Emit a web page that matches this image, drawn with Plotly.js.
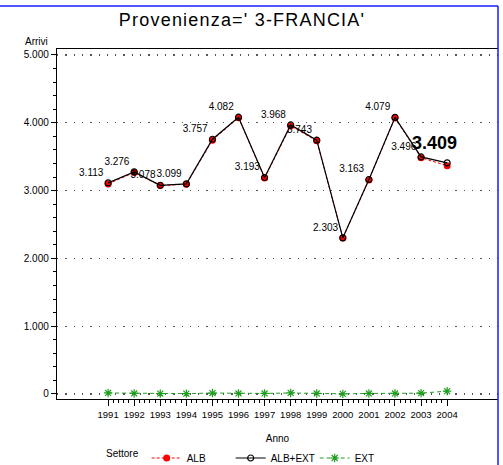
<!DOCTYPE html>
<html>
<head>
<meta charset="utf-8">
<script src="https://cdn.plot.ly/plotly-3.0.1.min.js"></script>
<style>
html,body{margin:0;padding:0;background:#fff;}
#chart{width:503px;height:465px;}
.gtitle{letter-spacing:1.2px;}
</style>
</head>
<body>
<div id="chart"></div>
<script>
// ---- data ----
const years = [1991,1992,1993,1994,1995,1996,1997,1998,1999,2000,2001,2002,2003,2004];
const albExt = [3113,3276,3078,3099,3757,4082,3193,3968,3743,2303,3163,4079,3496,3409];
const ext = [15,8,5,5,14,8,8,15,8,2,8,8,12,42];
const alb = [3098,3268,3073,3094,3743,4074,3185,3953,3735,2301,3155,4071,3484,3367];
const seriesNames = ['ALB','ALB+EXT','EXT'];
const titleText = "Provenienza=' 3-FRANCIA'";
const yTickVals = [0,1000,2000,3000,4000,5000];

const FONT = "'Liberation Sans',Arial,sans-serif";
function fmt(v){ const t = Math.floor(v/1000), r = v%1000; return t>0 ? t+'.'+String(r).padStart(3,'0') : String(r); }

const labels = albExt.map((v,i)=> i===albExt.length-1 ? '' : fmt(v));
const minorX = [];
for (let i=0;i<years.length-1;i++) for (let k=1;k<5;k++) minorX.push(years[i]+k*0.2);

const traces = [
  {x:years, y:alb, name:seriesNames[0], type:'scatter', mode:'lines+markers',
   line:{color:'#ff0000', width:1, dash:'3px,2px'},
   marker:{symbol:'circle', size:7, color:'#ff0000'}},
  {x:years, y:albExt, name:seriesNames[1], type:'scatter', mode:'lines+markers+text',
   line:{color:'#000000', width:1.2},
   marker:{symbol:'circle-open', size:6, color:'#000000', line:{width:1.2, color:'#000'}},
   text:labels, textposition:'top left',
   textfont:{family:FONT, size:10, color:'#000'}},
  {x:years, y:ext, name:seriesNames[2], type:'scatter', mode:'lines+markers',
   line:{color:'#1f9e1f', width:1, dash:'4px,3px'},
   marker:{symbol:'asterisk-open', size:7, color:'#1f9e1f', line:{width:1.2, color:'#1f9e1f'}}}
];

const last = years.length-1;
const layout = {
  width:503, height:465,
  margin:{l:57, r:5, t:49, b:66, autoexpand:false},
  paper_bgcolor:'#fff', plot_bgcolor:'#fff',
  separators:',.',
  font:{family:FONT, size:10, color:'#000'},
  title:{text:titleText, x:242/503, xanchor:'center', y:1-20/465, yanchor:'middle',
         font:{family:FONT, size:18, color:'#000'}},
  showlegend:true,
  legend:{orientation:'h', x:(104-57)/441, xanchor:'left', y:(399-458)/350, yanchor:'middle',
          title:{text:'Settore', side:'left', font:{family:FONT, size:10}},
          font:{family:FONT, size:10}, entrywidth:39, entrywidthmode:'pixels',
          bgcolor:'rgba(0,0,0,0)'},
  xaxis:{range:[1989.04,2005.95], tickmode:'array', tickvals:years, ticktext:years.map(String),
         tickangle:0, automargin:false,
         ticks:'outside', ticklen:6, tickcolor:'#000', tickwidth:1,
         showline:true, linecolor:'#000', linewidth:1.2, mirror:true,
         showgrid:false, zeroline:false,
         tickfont:{family:FONT, size:9.5},
         minor:{tickmode:'array', tickvals:minorX, ticks:'outside', ticklen:3, tickcolor:'#000', showgrid:false},
         title:{text:'Anno', standoff:16, font:{family:FONT, size:10}}},
  yaxis:{range:[-74,5088], tickmode:'array', tickvals:yTickVals, automargin:false,
         ticktext:yTickVals.map(fmt),
         ticks:'outside', ticklen:5, tickcolor:'#000',
         showline:true, linecolor:'#000', linewidth:1.2,
         showgrid:true, gridcolor:'#555', gridwidth:1.3, griddash:'1.3px,7px',
         zeroline:false, tickfont:{family:FONT, size:10},
         minor:{dtick:200, tick0:0, ticks:'outside', ticklen:3, tickcolor:'#000', showgrid:false}},
  annotations:[
    {xref:'paper', yref:'paper', x:-7/441, y:(399-42)/350, xanchor:'right', yanchor:'middle',
     text:'Arrivi', showarrow:false, font:{family:FONT, size:10}},
    {x:years[last], y:albExt[last], xref:'x', yref:'y', text:fmt(albExt[last]), showarrow:false,
     xanchor:'center', yanchor:'middle', xshift:-13, yshift:20,
     font:{family:FONT, size:18, color:'#000', weight:'bold'}}
  ],
  shapes:[
    {type:'line', xref:'paper', yref:'paper', x0:-57/441, x1:1, y0:(399-6)/350, y1:(399-6)/350,
     line:{color:'#1a1aff', width:1.5}},
    {type:'line', xref:'paper', yref:'paper', x0:1, x1:1, y0:(399-6)/350, y1:(399-466)/350,
     line:{color:'#1a1aff', width:1.5}}
  ]
};

Plotly.newPlot('chart', traces, layout, {displayModeBar:false, staticPlot:true});
</script>
</body>
</html>
